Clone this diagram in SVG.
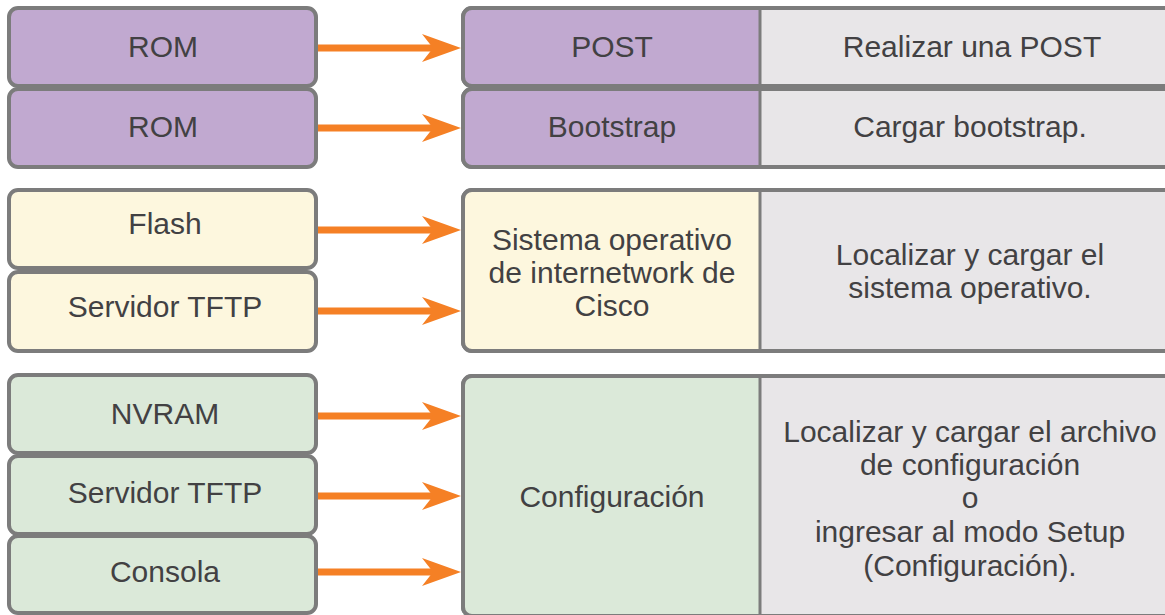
<svg xmlns="http://www.w3.org/2000/svg" width="1165" height="615" viewBox="0 0 1165 615">
  <defs>
    <style>
      .box { stroke: #7c7c7c; stroke-width: 4; }
      .rom { fill: #c1a9d0; }
      .ios { fill: #fdf7de; }
      .cfg { fill: #dbe9d9; }
      .desc { fill: #e8e6e8; }
      .div { stroke: #7c7c7c; stroke-width: 3; }
      .lbl { font-family: "Liberation Sans", Arial, sans-serif; font-size: 30px; fill: #424143; text-anchor: middle; }
      .shaft { stroke: #f58025; stroke-width: 7; fill: none; }
      .head { fill: #f58025; }
    </style>
    <symbol id="arrowhead" overflow="visible">
      <path class="head" d="M0,0 L-39,-14 L-28,0 L-39,14 Z"/>
    </symbol>
  </defs>

  <!-- source boxes -->
  <g id="rom1"><rect class="box rom" x="9" y="8" width="307" height="78" rx="9"/><text class="lbl" x="163" y="57">ROM</text></g>
  <g id="rom2"><rect class="box rom" x="9" y="89" width="307" height="78" rx="9"/><text class="lbl" x="163" y="137">ROM</text></g>
  <g id="flash"><rect class="box ios" x="9" y="190" width="307" height="78" rx="9"/><text class="lbl" x="165" y="234">Flash</text></g>
  <g id="tftp1"><rect class="box ios" x="9" y="272" width="307" height="79" rx="9"/><text class="lbl" x="165" y="317">Servidor TFTP</text></g>
  <g id="nvram"><rect class="box cfg" x="9" y="375" width="307" height="78" rx="9"/><text class="lbl" x="165" y="424">NVRAM</text></g>
  <g id="tftp2"><rect class="box cfg" x="9" y="456" width="307" height="78" rx="9"/><text class="lbl" x="165" y="503">Servidor TFTP</text></g>
  <g id="consola"><rect class="box cfg" x="9" y="536" width="307" height="77" rx="9"/><text class="lbl" x="165" y="582">Consola</text></g>

  <!-- target stages: coloured stage cell on the left, grey description cell on the right -->
  <g id="post">
    <rect class="box desc" x="463" y="8" width="720" height="78" rx="9"/>
    <path class="rom" d="M760,8 H472 A9,9 0 0 0 463,17 V77 A9,9 0 0 0 472,86 H760 Z"/>
    <rect class="box" fill="none" x="463" y="8" width="720" height="78" rx="9"/>
    <line class="div" x1="760" y1="8" x2="760" y2="86"/>
    <text class="lbl" x="612" y="57">POST</text>
    <text class="lbl" x="972" y="57">Realizar una POST</text>
  </g>
  <g id="bootstrap">
    <rect class="box desc" x="463" y="89" width="720" height="78" rx="9"/>
    <path class="rom" d="M760,89 H472 A9,9 0 0 0 463,98 V158 A9,9 0 0 0 472,167 H760 Z"/>
    <rect class="box" fill="none" x="463" y="89" width="720" height="78" rx="9"/>
    <line class="div" x1="760" y1="89" x2="760" y2="167"/>
    <text class="lbl" x="612" y="137">Bootstrap</text>
    <text class="lbl" x="970" y="137">Cargar bootstrap.</text>
  </g>
  <g id="ios">
    <rect class="box desc" x="463" y="190" width="720" height="161" rx="9"/>
    <path class="ios" d="M760,190 H472 A9,9 0 0 0 463,199 V342 A9,9 0 0 0 472,351 H760 Z"/>
    <rect class="box" fill="none" x="463" y="190" width="720" height="161" rx="9"/>
    <line class="div" x1="760" y1="190" x2="760" y2="351"/>
    <text class="lbl" x="612" y="250">Sistema operativo</text>
    <text class="lbl" x="612" y="283">de internetwork de</text>
    <text class="lbl" x="612" y="316">Cisco</text>
    <text class="lbl" x="970" y="265">Localizar y cargar el</text>
    <text class="lbl" x="970" y="298">sistema operativo.</text>
  </g>
  <g id="config">
    <rect class="box desc" x="463" y="376" width="720" height="240" rx="9"/>
    <path class="cfg" d="M760,376 H472 A9,9 0 0 0 463,385 V616 H760 Z"/>
    <rect class="box" fill="none" x="463" y="376" width="720" height="240" rx="9"/>
    <line class="div" x1="760" y1="376" x2="760" y2="616"/>
    <text class="lbl" x="612" y="507">Configuración</text>
    <text class="lbl" x="970" y="442">Localizar y cargar el archivo</text>
    <text class="lbl" x="970" y="475">de configuración</text>
    <text class="lbl" x="970" y="508">o</text>
    <text class="lbl" x="970" y="542">ingresar al modo Setup</text>
    <text class="lbl" x="970" y="576">(Configuración).</text>
  </g>

  <!-- connectors -->
  <g id="connectors">
    <line class="shaft" x1="318" y1="48" x2="434" y2="48"/><use href="#arrowhead" x="461" y="48"/>
    <line class="shaft" x1="318" y1="128" x2="434" y2="128"/><use href="#arrowhead" x="461" y="128"/>
    <line class="shaft" x1="318" y1="230" x2="434" y2="230"/><use href="#arrowhead" x="461" y="230"/>
    <line class="shaft" x1="318" y1="311" x2="434" y2="311"/><use href="#arrowhead" x="461" y="311"/>
    <line class="shaft" x1="318" y1="416" x2="434" y2="416"/><use href="#arrowhead" x="461" y="416"/>
    <line class="shaft" x1="318" y1="496" x2="434" y2="496"/><use href="#arrowhead" x="461" y="496"/>
    <line class="shaft" x1="318" y1="572" x2="434" y2="572"/><use href="#arrowhead" x="461" y="572"/>
  </g>
</svg>
